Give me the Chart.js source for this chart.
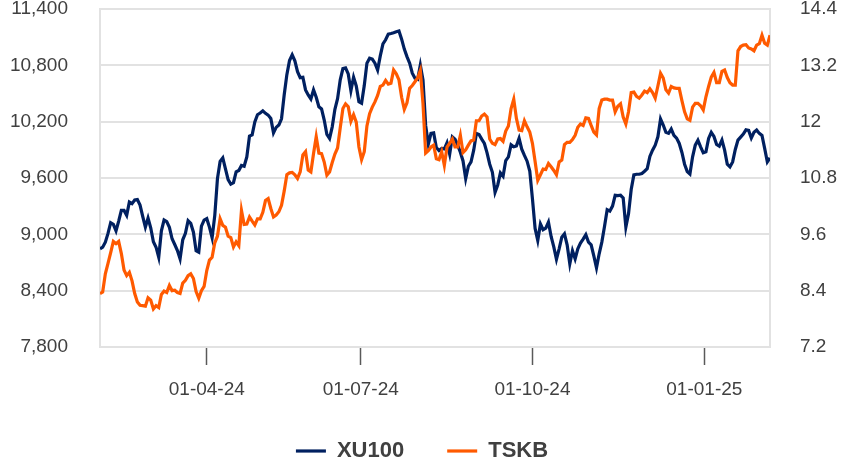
<!DOCTYPE html>
<html><head><meta charset="utf-8">
<script src="https://cdn.jsdelivr.net/npm/chart.js@4.4.1/dist/chart.umd.min.js"></script>
<style>html,body{margin:0;padding:0;background:#fff;overflow:hidden}</style>
</head><body>
<canvas id="c" width="855" height="470"></canvas>
<script>
const seriesNames = ['XU100', 'TSKB'];
const xu100 = [
 8846, 8863, 8917, 9010, 9124, 9106, 9038, 9141, 9255, 9255, 9202, 9344,
 9327, 9365, 9370, 9312, 9191, 9077, 9173, 9070, 8921, 8863, 8756, 9038,
 9152, 9135, 9074, 8953, 8892, 8828, 8739, 8942, 9010, 9145, 9116, 9023,
 8825, 8810, 9088, 9152, 9167, 9077, 8964, 9202, 9594, 9776, 9814, 9697,
 9583, 9536, 9551, 9665, 9680, 9733, 9725, 9825, 10046, 10060, 10196, 10274,
 10292, 10316, 10289, 10270, 10235, 10081, 10139, 10164, 10231, 10484, 10701, 10851,
 10912, 10848, 10733, 10669, 10673, 10538, 10484, 10441, 10538, 10460, 10359, 10335,
 10217, 10064, 10021, 10145, 10331, 10445, 10645, 10765, 10773, 10709, 10530, 10673,
 10580, 10413, 10396, 10584, 10823, 10876, 10866, 10823, 10751, 10901, 11029, 11072,
 11133, 11139, 11147, 11157, 11165, 11079, 10973, 10893, 10823, 10716, 10663, 10652,
 10802, 10645, 10160, 9960, 10075, 10081, 9925, 9893, 9915, 9910, 9975, 9854,
 10039, 10014, 9950, 9875, 9782, 9594, 9725, 9771, 9896, 10075, 10064, 10014,
 9968, 9868, 9747, 9661, 9448, 9526, 9654, 9619, 9786, 9825, 9953, 9932,
 9942, 10022, 9907, 9840, 9779, 9675, 9380, 9063, 8935, 9110, 9049, 9066,
 9130, 8977, 8867, 8735, 8846, 8970, 9006, 8889, 8686, 8825, 8739, 8846,
 8906, 8949, 8996, 8917, 8889, 8771, 8643, 8793, 8917, 9084, 9263, 9248,
 9301, 9416, 9412, 9416, 9387, 9077, 9220, 9477, 9633, 9640, 9640, 9648,
 9672, 9700, 9830, 9896, 9950, 10039, 10228, 10164, 10086, 10075, 10121, 10054,
 10025, 9968, 9872, 9747, 9669, 9643, 9825, 9950, 10003, 9932, 9868, 9878,
 10021, 10086, 10043, 9957, 9939, 10003, 9896, 9747, 9718, 9771, 9904, 10003,
 10035, 10067, 10113, 10107, 10025, 10086, 10110, 10075, 10054, 9915, 9771, 9814
];
const tskb = [
 8.34, 8.37, 8.76, 8.98, 9.21, 9.45, 9.40, 9.45, 9.19, 8.84, 8.72, 8.79,
 8.61, 8.34, 8.16, 8.09, 8.08, 8.07, 8.25, 8.20, 8.01, 8.08, 8.04, 8.32,
 8.39, 8.36, 8.51, 8.40, 8.41, 8.36, 8.34, 8.56, 8.62, 8.72, 8.76, 8.66,
 8.38, 8.24, 8.40, 8.49, 8.83, 9.05, 9.11, 9.42, 9.56, 9.93, 9.79, 9.75,
 9.56, 9.53, 9.33, 9.44, 9.36, 10.11, 9.81, 9.82, 9.97, 9.88, 9.80, 9.93,
 9.93, 10.07, 10.32, 10.36, 10.15, 9.97, 10.01, 10.08, 10.22, 10.52, 10.87, 10.91,
 10.92, 10.87, 10.79, 10.93, 11.29, 11.36, 10.97, 10.93, 11.32, 11.68, 11.33, 11.32,
 11.14, 10.86, 10.93, 11.13, 11.31, 11.44, 11.87, 12.28, 12.38, 12.32, 12.01, 12.15,
 11.99, 11.46, 11.19, 11.36, 11.91, 12.17, 12.31, 12.42, 12.56, 12.75, 12.78, 12.88,
 12.80, 12.82, 13.10, 13.02, 12.89, 12.52, 12.26, 12.40, 12.71, 12.77, 12.85, 12.93,
 13.09, 12.39, 11.33, 11.38, 11.46, 11.50, 11.21, 11.19, 11.36, 11.07, 11.46, 11.54,
 11.63, 11.46, 11.46, 11.71, 11.34, 11.40, 11.50, 11.59, 11.61, 12.02, 12.02, 12.12,
 12.16, 12.10, 11.63, 11.54, 11.51, 11.63, 11.64, 11.58, 11.80, 11.91, 12.28, 12.48,
 12.07, 11.82, 11.81, 12.02, 11.89, 11.78, 11.54, 11.15, 10.75, 10.87, 10.99, 10.98,
 11.11, 11.04, 10.96, 10.87, 11.14, 11.18, 11.51, 11.56, 11.56, 11.62, 11.71, 11.88,
 11.95, 11.92, 12.08, 12.07, 11.92, 11.78, 11.72, 12.28, 12.46, 12.48, 12.48, 12.46,
 12.46, 12.21, 12.33, 12.38, 12.10, 11.95, 12.21, 12.62, 12.63, 12.54, 12.50, 12.57,
 12.65, 12.62, 12.70, 12.62, 12.50, 12.76, 13.03, 12.93, 12.68, 12.61, 12.75, 12.72,
 12.71, 12.71, 12.45, 12.21, 12.06, 12.03, 12.31, 12.39, 12.39, 12.34, 12.25, 12.53,
 12.75, 12.95, 13.05, 12.83, 12.83, 13.07, 13.10, 12.94, 12.83, 12.78, 12.78, 13.51,
 13.60, 13.63, 13.64, 13.57, 13.55, 13.51, 13.63, 13.66, 13.84, 13.67, 13.63, 13.84
];
// x positions are trading-day indices; quarter-start ticks
const xTickIndex = [40, 97.7, 162, 226.4];
const xTickLabels = ['01-04-24', '01-07-24', '01-10-24', '01-01-25'];
const leftTicks = [7800, 8400, 9000, 9600, 10200, 10800, 11400];
const rightTicks = [7.2, 8.4, 9.6, 10.8, 12, 13.2, 14.4];

const toPoints = arr => arr.map((v, i) => ({ x: i, y: v }));
const FONT = "'Liberation Sans', Arial, sans-serif";
const TXT = '#404040';
const GRID = '#e2e2e2';
const PAD_R = 11;

Chart.defaults.font.family = FONT;

new Chart(document.getElementById('c'), {
  type: 'line',
  data: {
    datasets: [
      { label: seriesNames[0], data: toPoints(xu100), yAxisID: 'y',
        borderColor: '#002060', backgroundColor: '#002060', borderWidth: 3.2,
        pointRadius: 0, tension: 0, order: 1 },
      { label: seriesNames[1], data: toPoints(tskb), yAxisID: 'y2',
        borderColor: '#ff5a00', backgroundColor: '#ff5a00', borderWidth: 3.2,
        pointRadius: 0, tension: 0, order: 0 }
    ]
  },
  options: {
    responsive: false,
    animation: false,
    devicePixelRatio: 1,
    layout: { padding: { top: 9, left: 0, right: PAD_R, bottom: -2 } },
    plugins: {
      tooltip: { enabled: false },
      legend: {
        position: 'bottom',
        labels: {
          usePointStyle: true, pointStyle: 'line', pointStyleWidth: 30,
          padding: 43, color: TXT,
          font: { size: 22, weight: 'bold' },
          sort: (a, b) => a.datasetIndex - b.datasetIndex
        }
      }
    },
    scales: {
      x: {
        type: 'linear', min: 0, max: xu100.length - 1,
        afterBuildTicks: s => { s.ticks = xTickIndex.map(v => ({ value: v })); },
        afterFit: s => { s.height = 50; },
        ticks: { autoSkip: false, maxRotation: 0, padding: 13, color: TXT,
                 font: { size: 19 }, callback: (v, i) => xTickLabels[i] },
        grid: { drawOnChartArea: false, drawTicks: true, tickLength: 18,
                tickColor: '#595959', tickWidth: 1.5 },
        border: { display: true, color: GRID, width: 2 }
      },
      y: {
        position: 'left', min: 7800, max: 11400,
        afterBuildTicks: s => { s.ticks = leftTicks.map(v => ({ value: v })); },
        afterFit: s => { s.width = 100; s.paddingTop = 9; s.paddingBottom = 0; },
        ticks: { padding: 32, color: TXT, font: { size: 19, lineHeight: 1 },
                 callback: v => Number(v).toLocaleString('en-US') },
        grid: { color: GRID, lineWidth: 2, drawTicks: false },
        border: { display: true, color: GRID, width: 2 }
      },
      y2: {
        position: 'right', min: 7.2, max: 14.4,
        afterBuildTicks: s => { s.ticks = rightTicks.map(v => ({ value: v })); },
        afterFit: s => { s.width = 855 - PAD_R - 770; s.paddingTop = 9; s.paddingBottom = 0; },
        ticks: { padding: 30, color: TXT, font: { size: 19, lineHeight: 1 },
                 callback: v => String(v) },
        grid: { drawOnChartArea: false, drawTicks: false },
        border: { display: true, color: GRID, width: 2 }
      }
    }
  }
});
</script>
</body></html>
